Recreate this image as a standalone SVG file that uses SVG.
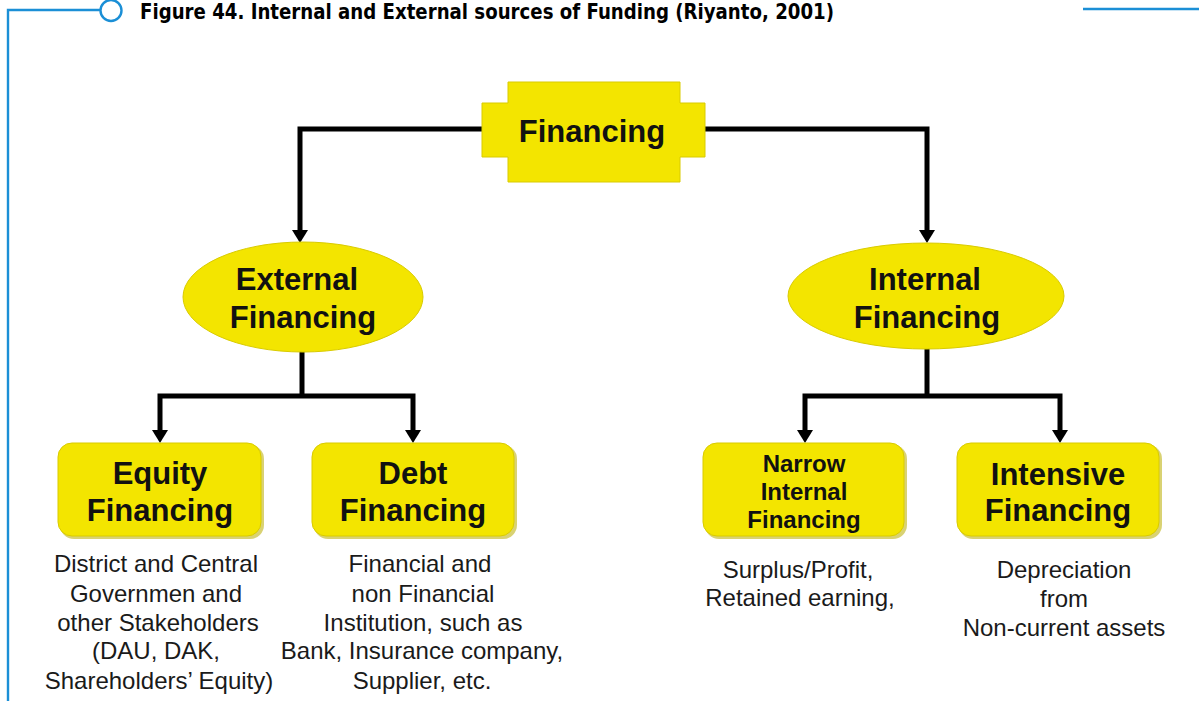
<svg xmlns="http://www.w3.org/2000/svg" width="1199" height="701" viewBox="0 0 1199 701">
<defs>
<style>
.frame{fill:none;stroke:#1b8fd6;stroke-width:2.4}
.node{fill:#f3e500;stroke:#d9cb00;stroke-width:1}
.shadow{fill:#b9ad00;opacity:0.55}
.conn{fill:none;stroke:#000;stroke-width:5;stroke-linejoin:miter}
.lbl{font-family:"Liberation Sans",Arial,sans-serif;font-weight:bold;fill:#111;text-anchor:middle}
.big{font-size:31px}
.mid{font-size:24px}
.desc{font-family:"Liberation Sans",Arial,sans-serif;font-size:24px;fill:#1a1a1a;text-anchor:middle}
.title{font-family:"Liberation Sans Narrow","DejaVu Sans Condensed","Roboto Condensed","Liberation Sans",sans-serif;font-stretch:condensed;font-weight:bold;font-size:21px;fill:#000}
</style>
<marker id="arrd" viewBox="0 0 13 16" refX="1" refY="8" markerWidth="13" markerHeight="16" markerUnits="userSpaceOnUse" orient="auto">
<path d="M0,0 L13,8 L0,16 Z" fill="#000"/>
</marker>
</defs>
<rect width="1199" height="701" fill="#fff"/>
<g id="frame">
<path class="frame" d="M8,701 V10 H100"/>
<circle class="frame" cx="111" cy="10.5" r="10.5"/>
<path class="frame" d="M1083,9 H1199"/>
<text class="title" x="140" y="19" textLength="694" lengthAdjust="spacingAndGlyphs">Figure 44. Internal and External sources of  Funding (Riyanto, 2001)</text>
</g>
<g id="connectors">
<path class="conn" d="M484,129 H300 V231" marker-end="url(#arrd)"/>
<path class="conn" d="M703,129 H927 V231" marker-end="url(#arrd)"/>
<path class="conn" d="M302,350 V396"/>
<path class="conn" d="M302,396 H160 V431" marker-end="url(#arrd)"/>
<path class="conn" d="M302,396 H413 V431" marker-end="url(#arrd)"/>
<path class="conn" d="M927,348 V396"/>
<path class="conn" d="M927,396 H805 V431" marker-end="url(#arrd)"/>
<path class="conn" d="M927,396 H1060 V431" marker-end="url(#arrd)"/>
</g>
<g id="financing">
<path class="node" d="M508,82 H680 V103 H705 V157 H680 V182 H508 V157 H482 V103 H508 Z"/>
<text class="lbl big" x="592" y="142">Financing</text>
</g>
<g id="external">
<ellipse class="node" cx="303" cy="297" rx="120" ry="55"/>
<text class="lbl big" x="297" y="290">External</text>
<text class="lbl big" x="303" y="328">Financing</text>
</g>
<g id="internal">
<ellipse class="node" cx="926" cy="296" rx="138" ry="53"/>
<text class="lbl big" x="925" y="290">Internal</text>
<text class="lbl big" x="927" y="328">Financing</text>
</g>
<g id="equity">
<rect class="shadow" x="60" y="445" width="204" height="94" rx="14"/>
<rect class="node" x="58" y="443" width="203" height="93" rx="14"/>
<text class="lbl big" x="160" y="484">Equity</text>
<text class="lbl big" x="160" y="521">Financing</text>
<text class="desc" x="156" y="572">District and Central</text>
<text class="desc" x="156" y="602">Governmen and</text>
<text class="desc" x="158" y="631">other Stakeholders</text>
<text class="desc" x="156" y="659">(DAU, DAK,</text>
<text class="desc" x="159" y="689">Shareholders’ Equity)</text>
</g>
<g id="debt">
<rect class="shadow" x="314" y="445" width="203" height="94" rx="14"/>
<rect class="node" x="312" y="443" width="202" height="93" rx="14"/>
<text class="lbl big" x="413" y="484">Debt</text>
<text class="lbl big" x="413" y="521">Financing</text>
<text class="desc" x="420" y="572">Financial and</text>
<text class="desc" x="423" y="602">non Financial</text>
<text class="desc" x="423" y="631">Institution, such as</text>
<text class="desc" x="422" y="659">Bank, Insurance company,</text>
<text class="desc" x="422" y="689">Supplier, etc.</text>
</g>
<g id="narrow">
<rect class="shadow" x="705" y="445" width="202" height="94" rx="14"/>
<rect class="node" x="703" y="443" width="201" height="93" rx="14"/>
<text class="lbl mid" x="804" y="472">Narrow</text>
<text class="lbl mid" x="804" y="500">Internal</text>
<text class="lbl mid" x="804" y="528">Financing</text>
<text class="desc" x="798" y="578">Surplus/Profit,</text>
<text class="desc" x="800" y="606">Retained earning,</text>
</g>
<g id="intensive">
<rect class="shadow" x="959" y="445" width="203" height="94" rx="14"/>
<rect class="node" x="957" y="443" width="202" height="93" rx="14"/>
<text class="lbl big" x="1058" y="485">Intensive</text>
<text class="lbl big" x="1058" y="521">Financing</text>
<text class="desc" x="1064" y="578">Depreciation</text>
<text class="desc" x="1064" y="607">from</text>
<text class="desc" x="1064" y="636">Non-current assets</text>
</g>
</svg>
